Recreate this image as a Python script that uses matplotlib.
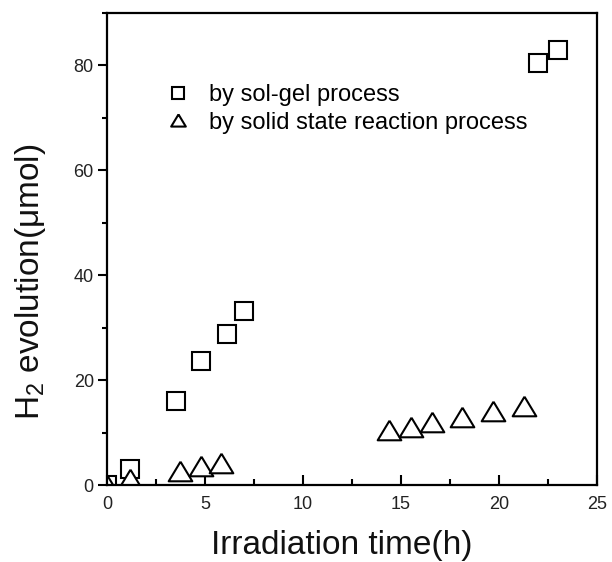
import matplotlib
matplotlib.use("Agg")
import matplotlib.pyplot as plt
from matplotlib.ticker import MultipleLocator

plt.rcParams['font.family'] = ['Liberation Sans', 'DejaVu Sans']
plt.rcParams['mathtext.fontset'] = 'custom'
plt.rcParams['mathtext.rm'] = 'Liberation Sans'
plt.rcParams['mathtext.it'] = 'Liberation Sans'

# Data
solgel_time = [0, 1.2, 3.5, 4.8, 6.1, 7.0, 22.0, 23.0]
solgel_h2 = [0, 3.0, 16.0, 23.6, 28.8, 33.1, 80.5, 83.0]
solid_time = [0, 1.2, 3.7, 4.8, 5.8, 14.4, 15.5, 16.6, 18.1, 19.7, 21.3]
solid_h2 = [0, 1.2, 2.7, 3.7, 4.2, 10.5, 11.0, 12.0, 13.0, 14.1, 15.1]
labels = ["by sol-gel process", "by solid state reaction process"]

tri = [(0, 0.83), (-1, -0.83), (1, -0.83), (0, 0.83)]

fig = plt.figure(figsize=(6.12, 5.62), dpi=100)
ax = fig.add_axes([0.1748, 0.137, 0.8007, 0.8399])

ax.plot(solgel_time, solgel_h2, linestyle='none', marker='s', markersize=13,
        markerfacecolor='white', markeredgecolor='black', markeredgewidth=1.5,
        label=labels[0])
ax.plot(solid_time, solid_h2, linestyle='none', marker=tri, markersize=17,
        markerfacecolor='white', markeredgecolor='black', markeredgewidth=1.5,
        label=labels[1])

ax.set_xlim(0, 25)
ax.set_ylim(0, 90)
ax.xaxis.set_major_locator(MultipleLocator(5))
ax.xaxis.set_minor_locator(MultipleLocator(2.5))
ax.yaxis.set_major_locator(MultipleLocator(20))
ax.yaxis.set_minor_locator(MultipleLocator(10))

for s in ax.spines.values():
    s.set_linewidth(1.6)

ax.tick_params(axis='x', which='major', direction='in', length=7, width=1.5,
               labelsize=13, pad=8, top=False, labelcolor='#222222')
ax.tick_params(axis='x', which='minor', direction='in', length=4.5, width=1.5, top=False)
ax.tick_params(axis='y', which='major', direction='out', length=6.5, width=1.5,
               labelsize=13, pad=3, right=False, labelcolor='#222222')
ax.tick_params(axis='y', which='minor', direction='out', length=3.5, width=1.5, right=False)

ax.set_xlabel("Irradiation time(h)", fontsize=24, color='#111111')
ax.set_ylabel("H$_2$ evolution(μmol)", fontsize=24, color='#111111')
ax.xaxis.set_label_coords(0.479, -0.095)
ax.yaxis.set_label_coords(-0.12, 0.43)

leg = ax.legend(loc='upper left', bbox_to_anchor=(0.08, 0.895), frameon=False,
                fontsize=17, markerscale=0.62, handlelength=0.9,
                handletextpad=0.85, labelspacing=0.25)

fig.savefig("out.png", dpi=100)
